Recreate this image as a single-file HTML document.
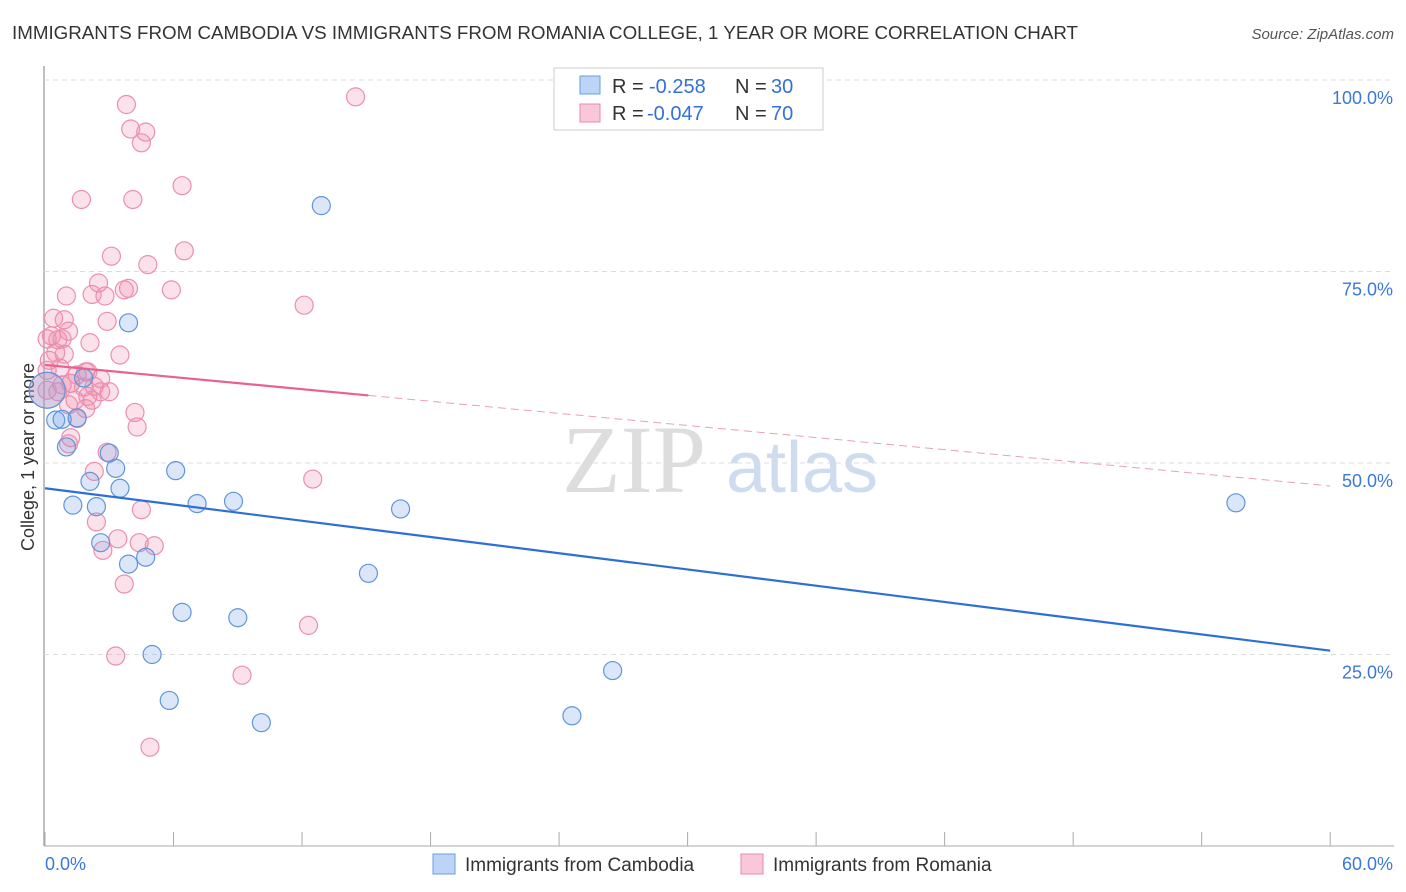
<!DOCTYPE html>
<html><head><meta charset="utf-8"><style>
body{margin:0;background:#fff;font-family:"Liberation Sans",sans-serif}
svg{display:block}
</style></head><body>
<svg id="c" width="1406" height="892">
<text x="12" y="39" font-size="18" textLength="1066" lengthAdjust="spacingAndGlyphs" fill="#333">IMMIGRANTS FROM CAMBODIA VS IMMIGRANTS FROM ROMANIA COLLEGE, 1 YEAR OR MORE CORRELATION CHART</text>
<text x="1394" y="39" font-size="15" fill="#555" font-style="italic" text-anchor="end">Source: ZipAtlas.com</text>
<text x="634" y="492" font-size="96" fill="#ddd" font-family="Liberation Serif,serif" text-anchor="middle">ZIP</text>
<text x="802" y="492" font-size="72" fill="#cfdcf0" text-anchor="middle">atlas</text>
<text transform="translate(34,457) rotate(-90)" font-size="18" fill="#333" text-anchor="middle">College, 1 year or more</text>
<g id="grid"></g><g id="pts"></g><g id="lines"></g>
<g>
<rect x="554" y="68" width="269" height="62" fill="#fff" stroke="#ccc"/>
<rect x="580" y="76" width="20" height="18" fill="#bcd4f5" stroke="#6a9be0"/>
<rect x="580" y="104" width="20" height="18" fill="#f8c8d6" stroke="#e88aa8"/>
<text y="93" font-size="20" fill="#333"><tspan x="612">R =</tspan><tspan x="649" fill="#3370d8">-0.258</tspan><tspan x="735">N =</tspan><tspan x="771" fill="#3370d8">30</tspan></text>
<text y="120" font-size="20" fill="#333"><tspan x="612">R =</tspan><tspan x="647" fill="#3370d8">-0.047</tspan><tspan x="735">N =</tspan><tspan x="771" fill="#3370d8">70</tspan></text>
</g>
<g>
<rect x="433" y="854" width="22" height="20" fill="#bcd4f5" stroke="#6a9be0"/>
<text x="465" y="871" font-size="19" fill="#333">Immigrants from Cambodia</text>
<rect x="741" y="854" width="22" height="20" fill="#f8c8d6" stroke="#e88aa8"/>
<text x="773" y="871" font-size="19" fill="#333">Immigrants from Romania</text>
</g>
</svg>
<script>
const yTicks=[25,50,75,100];
const xTickLabels=["0.0%","60.0%"];
const cambX=[12.9,3.9,0.1,0.5,0.8,1.5,1.0,3.0,3.3,2.1,6.1,3.5,1.3,2.4,7.1,8.8,16.6,2.6,4.7,3.9,15.1,6.4,9.0,5.0,26.5,5.8,10.1,24.6,55.6,1.8];
const cambY=[83.6,68.3,59.5,55.6,55.7,55.9,52.1,51.3,49.3,47.6,49.0,46.7,44.5,44.3,44.7,45.0,44.0,39.6,37.7,36.8,35.6,30.5,29.8,25.0,22.9,19.0,16.1,17.0,44.8,61.1];
const romX=[3.8,14.5,4.0,4.7,4.5,6.4,1.7,4.1,6.5,3.1,4.8,2.5,5.9,1.0,2.2,2.8,3.9,3.7,12.1,2.9,0.4,0.9,2.1,1.1,0.3,0.6,0.1,0.8,3.5,0.5,0.9,0.2,0.1,0.7,1.9,1.5,2.0,2.6,1.2,1.8,0.8,2.0,1.4,2.2,1.1,4.2,1.9,1.5,4.3,1.2,1.1,2.9,2.3,12.5,4.5,2.4,3.4,4.4,5.1,2.7,3.7,12.3,3.3,9.2,4.9,3.0,2.6,0.6,1.2,2.3,0.1];
const romY=[96.8,97.8,93.6,93.2,91.8,86.2,84.4,84.4,77.7,77.0,75.9,73.5,72.6,71.8,72.0,71.8,72.8,72.6,70.6,68.5,68.9,68.7,65.7,67.2,66.6,66.1,66.2,66.2,64.1,64.4,64.2,63.4,62.1,62.4,61.9,61.5,61.9,61.0,60.4,59.9,60.2,58.7,58.2,58.2,57.6,56.6,57.1,55.8,54.7,53.3,52.5,51.4,48.9,47.9,43.9,42.3,40.1,39.6,39.2,38.6,34.2,28.8,24.8,22.3,12.9,59.3,59.3,59.3,60.4,60.0,59.5];
const cambTrend=[46.7,25.5];
const romTrend=[62.8,47.0];
const X=v=>45+v*21.42, Y=v=>846-v*7.66;
const NS="http://www.w3.org/2000/svg";
function mk(t,a,p){const e=document.createElementNS(NS,t);for(const k in a)e.setAttribute(k,a[k]);p.appendChild(e);return e;}
const g=document.getElementById('grid');
const ax=mk('line',{x1:44,y1:66,x2:44,y2:846,stroke:'#aaa','stroke-width':1.5},g);


const xa=mk('line',{x1:44,y1:846,x2:1394,y2:846,stroke:'#aaa','stroke-width':1},g);


for(let i=0;i<=10;i++){const t=mk('line',{x1:X(i*6),y1:832,x2:X(i*6),y2:846,stroke:'#aaa'},g);

}
yTicks.forEach(v=>{const l=mk('line',{x1:44,y1:Y(v),x2:1394,y2:Y(v),stroke:'#ddd','stroke-dasharray':'5,4'},g);


const t=mk('text',{x:1393,y:Y(v)+24,'font-size':18,fill:'#3b78d8','text-anchor':'end'},g);t.textContent=v.toFixed(1)+'%';

});
const xl0=mk('text',{x:45,y:870,'font-size':18,fill:'#3b78d8'},g);xl0.textContent=xTickLabels[0];


const xl1=mk('text',{x:1393,y:870,'font-size':18,fill:'#3b78d8','text-anchor':'end'},g);xl1.textContent=xTickLabels[1];


const P=document.getElementById('pts');
const big1=mk('circle',{cx:X(0.1),cy:Y(59.5),r:18,fill:'rgba(240,140,170,0.3)',stroke:'#e88aa8'},P);


romX.forEach((x,i)=>{const c=mk('circle',{cx:X(x),cy:Y(romY[i]),r:9,fill:'rgba(240,140,170,0.25)',stroke:'#eb8fae','stroke-width':1.2},P);

});
cambX.forEach((x,i)=>{const c=mk('circle',{cx:X(x),cy:Y(cambY[i]),r:i==2?18:9,fill:'rgba(110,160,230,0.25)',stroke:'#5f95dc','stroke-width':1.2},P);

});
const L=document.getElementById('lines');
const ry=x=>romTrend[0]+(romTrend[1]-romTrend[0])*x/60;
const cl=mk('line',{x1:X(0),y1:Y(cambTrend[0]),x2:X(60),y2:Y(cambTrend[1]),stroke:'#2e6fd6','stroke-width':2.2},L);


const rl=mk('line',{x1:X(0),y1:Y(ry(0)),x2:X(15.1),y2:Y(ry(15.1)),stroke:'#e8628c','stroke-width':2.2},L);


const rd=mk('line',{x1:X(15.1),y1:Y(ry(15.1)),x2:X(60),y2:Y(ry(60)),stroke:'#e8a0b8','stroke-width':1,'stroke-dasharray':'8,5'},L);


</script>
</body></html>
